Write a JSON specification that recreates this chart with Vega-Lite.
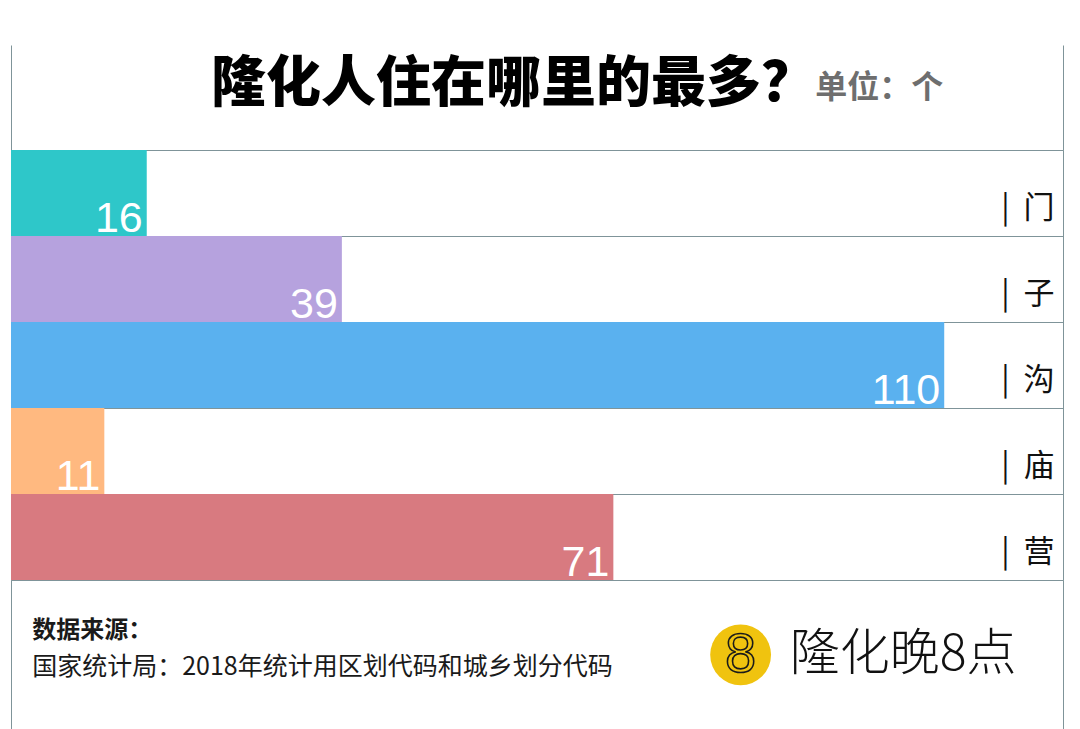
{
  "$schema": "https://vega.github.io/schema/vega-lite/v6.json",
  "autosize": "none",
  "width": 1052,
  "height": 430,
  "padding": {"left": 11, "top": 150, "right": 17, "bottom": 149},
  "background": "white",
  "config": {
    "view": {"stroke": "#7f9499", "strokeWidth": 1},
    "font": "Noto Sans CJK SC"
  },
  "title": {
    "text": "隆化人住在哪里的最多？",
    "frame": "group",
    "anchor": "start",
    "dx": 200,
    "offset": -68,
    "font": "Noto Sans CJK SC",
    "fontSize": 55,
    "fontWeight": 900,
    "color": "#000000"
  },
  "data": {
    "values": [
      {"地名": "门", "数量": 16},
      {"地名": "子", "数量": 39},
      {"地名": "沟", "数量": 110},
      {"地名": "庙", "数量": 11},
      {"地名": "营", "数量": 71}
    ]
  },
  "resolve": {"axis": {"x": "independent", "y": "independent"}},
  "layer": [
    {
      "mark": {"type": "bar", "cornerRadius": 0},
      "encoding": {
        "y": {
          "field": "地名",
          "type": "nominal",
          "sort": ["门", "子", "沟", "庙", "营"],
          "scale": {"paddingInner": 0, "paddingOuter": 0},
          "axis": {
            "orient": "right",
            "title": null,
            "domain": false,
            "ticks": false,
            "grid": true,
            "tickBand": "extent",
            "gridColor": "#7f9499",
            "gridWidth": 1,
            "gridOpacity": 1,
            "labelExpr": "datum.label ? '| \u00a0' + datum.label : ''",
            "labelAlign": "right",
            "labelPadding": -9,
            "labelOffset": 15,
            "labelFont": "Noto Sans CJK SC",
            "labelFontSize": 31,
            "labelColor": "#111111"
          }
        },
        "x": {
          "field": "数量",
          "type": "quantitative",
          "scale": {"domain": [0, 124], "nice": false, "zero": true},
          "axis": {
            "orient": "top",
            "values": [0, 124],
            "title": null,
            "labels": false,
            "domain": false,
            "grid": false,
            "ticks": true,
            "tickSize": 105,
            "tickColor": "#7f9499",
            "tickWidth": 1
          }
        },
        "color": {
          "field": "地名",
          "type": "nominal",
          "scale": {
            "domain": ["门", "子", "沟", "庙", "营"],
            "range": ["#2ec7c9", "#b6a2de", "#5ab1ef", "#ffb980", "#d87a80"]
          },
          "legend": null
        }
      }
    },
    {
      "mark": {"type": "text", "align": "right", "baseline": "alphabetic", "dx": -4, "dy": -4, "font": "Liberation Sans", "fontSize": 43, "color": "#ffffff"},
      "encoding": {
        "y": {"field": "地名", "type": "nominal", "sort": ["门", "子", "沟", "庙", "营"], "bandPosition": 1, "axis": null},
        "x": {
          "field": "数量",
          "type": "quantitative",
          "axis": {
            "orient": "bottom",
            "values": [0, 124],
            "title": null,
            "labels": false,
            "domain": false,
            "grid": false,
            "ticks": true,
            "tickSize": 150,
            "tickColor": "#7f9499",
            "tickWidth": 1
          }
        },
        "text": {"field": "数量", "type": "quantitative"}
      }
    },
    {
      "data": {"values": [{"t": "单位：个"}]},
      "mark": {"type": "text", "align": "left", "baseline": "middle", "font": "Noto Sans CJK SC", "fontSize": 32, "fontWeight": "bold", "color": "#6e6e6e"},
      "encoding": {
        "x": {"datum": 94.8, "type": "quantitative", "axis": null},
        "y": {"datum": "门", "type": "nominal", "bandPosition": -0.72, "axis": null},
        "text": {"field": "t"}
      }
    },
    {
      "data": {"values": [{"t": "数据来源："}]},
      "mark": {"type": "text", "align": "left", "baseline": "middle", "font": "Noto Sans CJK SC", "fontSize": 24, "fontWeight": "bold", "color": "#1a1a1a"},
      "encoding": {
        "x": {"datum": 2.5, "type": "quantitative", "axis": null},
        "y": {"datum": "营", "type": "nominal", "bandPosition": 1.59, "axis": null},
        "text": {"field": "t"}
      }
    },
    {
      "data": {"values": [{"t": "国家统计局：2018年统计用区划代码和城乡划分代码"}]},
      "mark": {"type": "text", "align": "left", "baseline": "middle", "font": "Noto Sans CJK SC", "fontSize": 25, "color": "#1a1a1a"},
      "encoding": {
        "x": {"datum": 2.5, "type": "quantitative", "axis": null},
        "y": {"datum": "营", "type": "nominal", "bandPosition": 2.01, "axis": null},
        "text": {"field": "t"}
      }
    },
    {
      "data": {"values": [{"t": "8"}]},
      "mark": {"type": "point", "shape": "circle", "filled": true, "size": 3700, "color": "#f0c30f", "opacity": 1},
      "encoding": {
        "x": {"datum": 86.0, "type": "quantitative", "axis": null},
        "y": {"datum": "营", "type": "nominal", "bandPosition": 1.87, "axis": null}
      }
    },
    {
      "data": {"values": [{"t": "8"}]},
      "mark": {"type": "text", "align": "center", "baseline": "middle", "font": "Liberation Sans", "fontSize": 56, "fill": "#f0c30f", "stroke": "#1a1a1a", "strokeWidth": 1.6},
      "encoding": {
        "x": {"datum": 86.0, "type": "quantitative", "axis": null},
        "y": {"datum": "营", "type": "nominal", "bandPosition": 1.87, "axis": null},
        "text": {"field": "t"}
      }
    },
    {
      "data": {"values": [{"t": "隆化晚8点"}]},
      "mark": {"type": "text", "align": "left", "baseline": "middle", "font": "Noto Sans CJK SC", "fontSize": 50, "fontWeight": 300, "color": "#111111"},
      "encoding": {
        "x": {"datum": 91.8, "type": "quantitative", "axis": null},
        "y": {"datum": "营", "type": "nominal", "bandPosition": 1.87, "axis": null},
        "text": {"field": "t"}
      }
    }
  ]
}
